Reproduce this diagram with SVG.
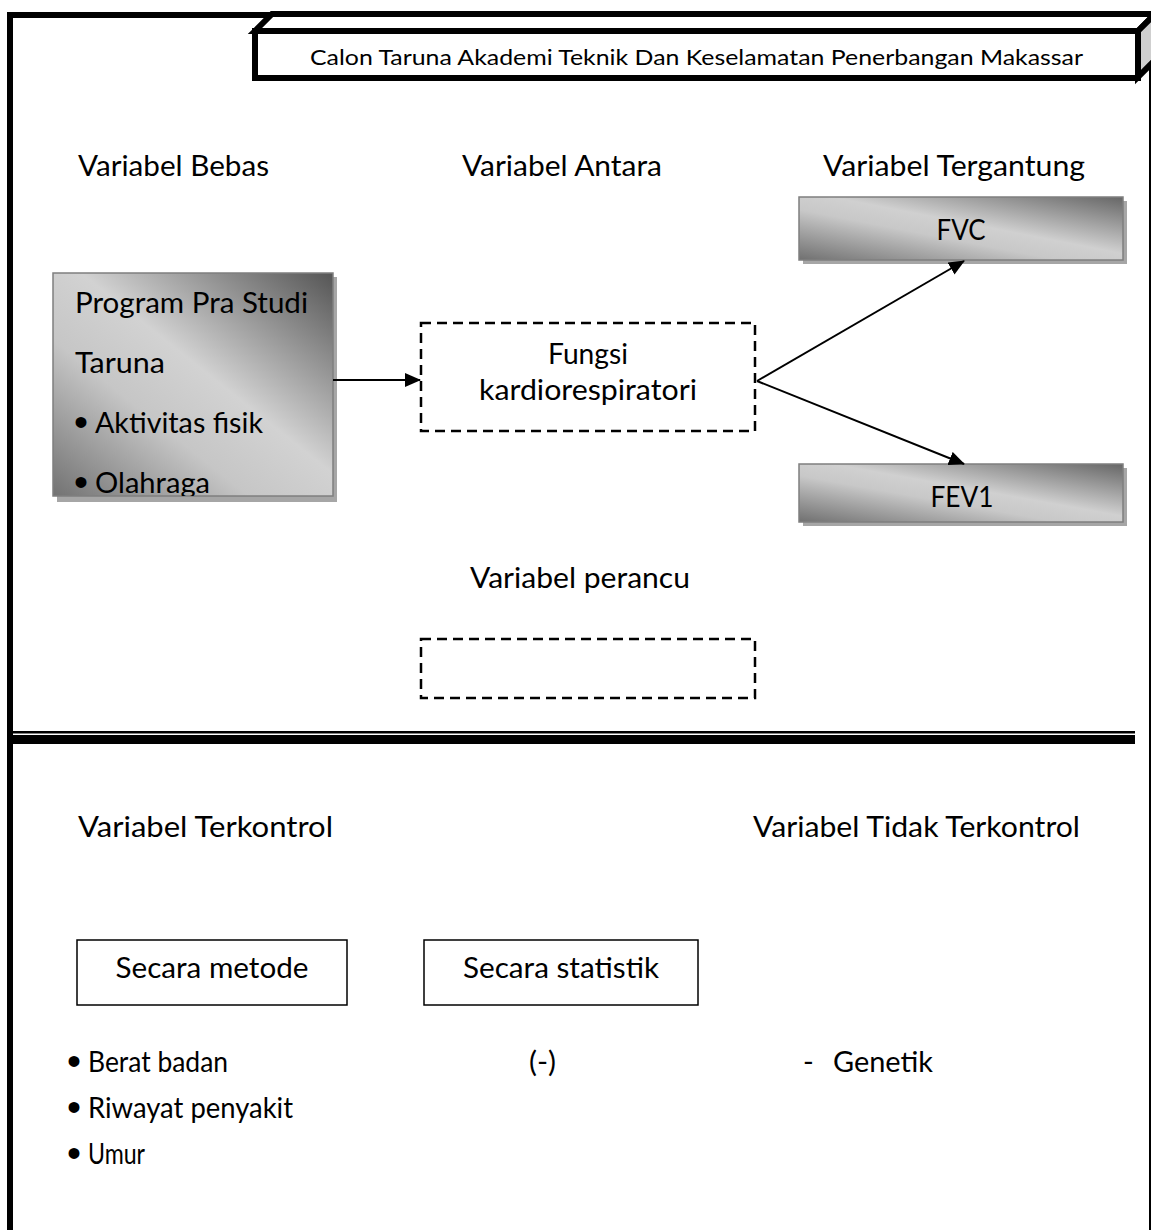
<svg xmlns="http://www.w3.org/2000/svg" width="1151" height="1230" viewBox="0 0 1151 1230">
<style>
.t{font-family:Lato,"Open Sans","Liberation Sans",sans-serif;font-size:29px;fill:#000}
.s{font-family:Lato,"Open Sans","Liberation Sans",sans-serif;font-size:22px;fill:#000}
.b{font-family:"Liberation Sans",sans-serif;font-size:40px;fill:#000}
.dash{fill:none;stroke:#000;stroke-width:2.5;stroke-dasharray:10 6}
.conn{fill:none;stroke:#000;stroke-width:2}
.thin{fill:none;stroke:#000;stroke-width:1.5}
.grad{stroke:#7f7f7f;stroke-width:1.5}
.shadow{fill:#a6a6a6}
</style>
<defs>
<linearGradient id="g1" x1="1" y1="0" x2="0" y2="1">
<stop offset="0" stop-color="#555"/>
<stop offset="0.45" stop-color="#d2d2d2"/>
<stop offset="0.65" stop-color="#c6c6c6"/>
<stop offset="1" stop-color="#727272"/>
</linearGradient>
<linearGradient id="g2" x1="1" y1="0" x2="0" y2="1">
<stop offset="0" stop-color="#666"/>
<stop offset="0.45" stop-color="#d0d0d0"/>
<stop offset="0.6" stop-color="#c8c8c8"/>
<stop offset="1" stop-color="#707070"/>
</linearGradient>
<marker id="arr" markerWidth="16" markerHeight="14" refX="15" refY="7" orient="auto" markerUnits="userSpaceOnUse">
<path d="M0,0 L16,7 L0,14 Z" fill="#000"/>
</marker>
<clipPath id="clipL"><rect x="53" y="273" width="280" height="223"/></clipPath>
</defs>

<g id="frame">
<line x1="10" y1="12" x2="10" y2="1230" stroke="#000" stroke-width="6"/>
<line x1="7" y1="15" x2="1151" y2="15" stroke="#000" stroke-width="6"/>
<line x1="1150" y1="15" x2="1150" y2="1230" stroke="#000" stroke-width="2"/>
</g>

<g id="title">
<polygon points="255,31 272,14 1155,14 1138,31" fill="#fff" stroke="#000" stroke-width="6" stroke-linejoin="miter"/>
<polygon points="1138,31 1155,14 1155,60 1138,77" fill="#cfcfcf" stroke="#000" stroke-width="6"/>
<rect x="255" y="31" width="883" height="47" fill="#fff" stroke="#000" stroke-width="6"/>
<text class="s" x="310" y="65" textLength="773" lengthAdjust="spacingAndGlyphs">Calon Taruna Akademi Teknik Dan Keselamatan Penerbangan Makassar</text>
</g>

<g id="labels-top">
<text class="t" x="78" y="176" textLength="191" lengthAdjust="spacingAndGlyphs">Variabel Bebas</text>
<text class="t" x="462" y="176" textLength="200" lengthAdjust="spacingAndGlyphs">Variabel Antara</text>
<text class="t" x="823" y="176" textLength="262" lengthAdjust="spacingAndGlyphs">Variabel Tergantung</text>
</g>

<g id="node-program">
<rect class="shadow" x="57" y="277" width="280" height="225"/>
<rect class="grad" x="53" y="273" width="280" height="223" fill="url(#g1)"/>
<g clip-path="url(#clipL)">
<text class="t" x="75" y="313" textLength="233" lengthAdjust="spacingAndGlyphs">Program Pra Studi</text>
<text class="t" x="75" y="373" textLength="90" lengthAdjust="spacingAndGlyphs">Taruna</text>
<text class="b" x="74" y="436">•</text>
<text class="t" x="95" y="433" textLength="168" lengthAdjust="spacingAndGlyphs">Aktivitas fisik</text>
<text class="b" x="74" y="496">•</text>
<text class="t" x="95" y="493" textLength="115" lengthAdjust="spacingAndGlyphs">Olahraga</text>
</g>
</g>

<g id="node-fungsi">
<rect class="dash" x="421" y="323" width="334" height="108"/>
<text class="t" x="588" y="364" text-anchor="middle" textLength="80" lengthAdjust="spacingAndGlyphs">Fungsi</text>
<text class="t" x="588" y="400" text-anchor="middle" textLength="218" lengthAdjust="spacingAndGlyphs">kardiorespiratori</text>
</g>

<g id="node-fvc">
<rect class="shadow" x="803" y="201" width="324" height="63"/>
<rect class="grad" x="799" y="197" width="324" height="63" fill="url(#g2)"/>
<text class="t" x="961" y="240" text-anchor="middle" textLength="49" lengthAdjust="spacingAndGlyphs">FVC</text>
</g>

<g id="node-fev1">
<rect class="shadow" x="803" y="468" width="324" height="58"/>
<rect class="grad" x="799" y="464" width="324" height="58" fill="url(#g2)"/>
<text class="t" x="962" y="507" text-anchor="middle" textLength="63" lengthAdjust="spacingAndGlyphs">FEV1</text>
</g>

<g id="node-perancu">
<text class="t" x="470" y="588" textLength="220" lengthAdjust="spacingAndGlyphs">Variabel perancu</text>
<rect class="dash" x="421" y="639" width="334" height="59"/>
</g>

<g id="connectors">
<line class="conn" x1="333" y1="380" x2="420" y2="380" marker-end="url(#arr)"/>
<line class="conn" x1="757" y1="381" x2="964" y2="261" marker-end="url(#arr)"/>
<line class="conn" x1="757" y1="381" x2="964" y2="464" marker-end="url(#arr)"/>
</g>

<g id="divider">
<rect x="13" y="731" width="1122" height="2.5" fill="#000"/>
<rect x="13" y="735" width="1122" height="9" fill="#000"/>
</g>

<g id="labels-bottom">
<text class="t" x="78" y="837" textLength="255" lengthAdjust="spacingAndGlyphs">Variabel Terkontrol</text>
<text class="t" x="753" y="837" textLength="327" lengthAdjust="spacingAndGlyphs">Variabel Tidak Terkontrol</text>
</g>

<g id="node-metode">
<rect class="thin" x="77" y="940" width="270" height="65" fill="#fff"/>
<text class="t" x="212" y="978" text-anchor="middle" textLength="193" lengthAdjust="spacingAndGlyphs">Secara metode</text>
</g>

<g id="node-statistik">
<rect class="thin" x="424" y="940" width="274" height="65" fill="#fff"/>
<text class="t" x="561" y="978" text-anchor="middle" textLength="196" lengthAdjust="spacingAndGlyphs">Secara statistik</text>
</g>

<g id="lists">
<text class="b" x="67" y="1075">•</text>
<text class="t" x="88" y="1072" textLength="140" lengthAdjust="spacingAndGlyphs">Berat badan</text>
<text class="b" x="67" y="1121">•</text>
<text class="t" x="88" y="1118" textLength="205" lengthAdjust="spacingAndGlyphs">Riwayat penyakit</text>
<text class="b" x="67" y="1167">•</text>
<text class="t" x="88" y="1164" textLength="57" lengthAdjust="spacingAndGlyphs">Umur</text>
<text class="t" x="529" y="1072" textLength="27" lengthAdjust="spacingAndGlyphs">(-)</text>
<text class="t" x="803" y="1072">-</text>
<text class="t" x="833" y="1072" textLength="100" lengthAdjust="spacingAndGlyphs">Genetik</text>
</g>
</svg>
